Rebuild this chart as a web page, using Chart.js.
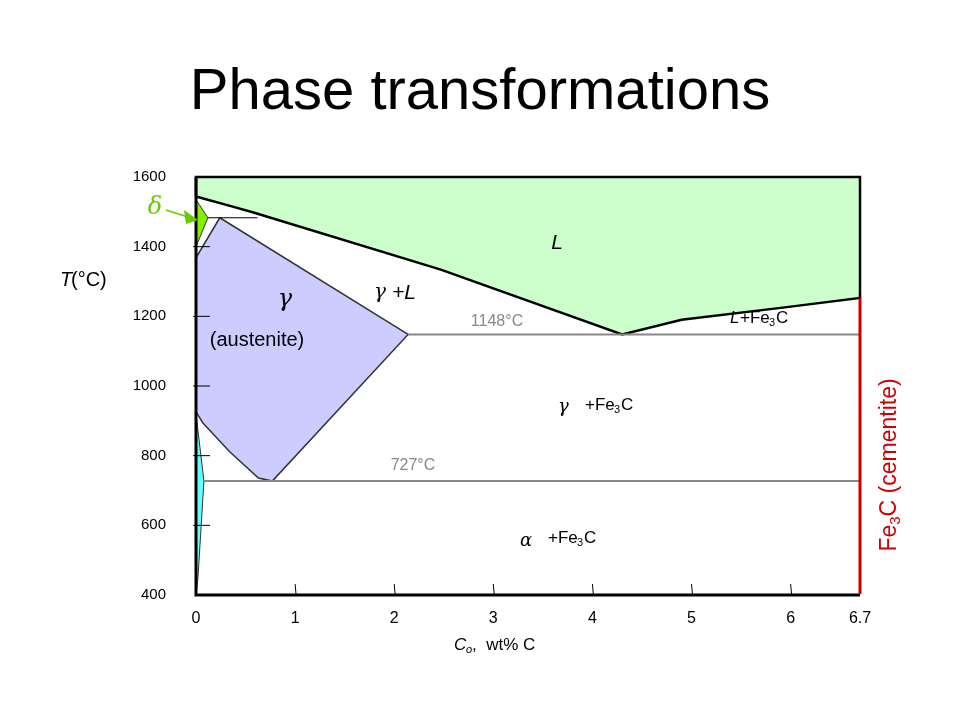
<!DOCTYPE html>
<html>
<head>
<meta charset="utf-8">
<script src="https://cdn.jsdelivr.net/npm/chart.js@4"></script>
<style>
  html, body { margin: 0; padding: 0; background: #fff; }
  #wrap { width: 960px; height: 720px; }
</style>
</head>
<body>
<div id="wrap"><canvas id="chart" width="960" height="720"></canvas></div>
<script>
// composition (wt% C) / temperature (°C) outlines
const xTicks = [0, 1, 2, 3, 4, 5, 6, 6.7];
const yTicks = [400, 600, 800, 1000, 1200, 1400, 1600];

const liquidX = [0, 0.37, 0.58, 2.47, 4.3, 4.9, 5.92, 6.7, 6.7, 0, 0];
const liquidT = [1544, 1515, 1498, 1334, 1148, 1190, 1225, 1253, 1600, 1600, 1544];

const gammaX = [0.24, 2.14, 0.77, 0.63, 0.34, 0.07, 0, 0, 0.24];
const gammaT = [1483, 1148, 727, 736, 811, 894, 926, 1368, 1483];

const deltaX = [0, 0.12, 0, 0];
const deltaT = [1535, 1483, 1400, 1535];

const alphaX = [0, 0.08, 0.02, 0, 0];
const alphaT = [920, 727, 450, 400, 920];

const peritecticX = [0.12, 0.62];
const peritecticT = [1483, 1483];
const eutecticX = [2.14, 6.7];
const eutecticT = [1148, 1148];
const eutectoidX = [0.08, 6.7];
const eutectoidT = [727, 727];
const cementiteX = [6.7, 6.7];
const cementiteT = [1253, 400];

const pts = (xs, ys) => xs.map((x, i) => ({ x, y: ys[i] }));

function shape(xs, ys, fill, border, width) {
  return { data: pts(xs, ys), showLine: true, fill: "shape", backgroundColor: fill,
    borderColor: border, borderWidth: width, pointRadius: 0, tension: 0, clip: false };
}
function line(xs, ys, color, width) {
  return { data: pts(xs, ys), showLine: true, fill: false, borderColor: color,
    borderWidth: width, pointRadius: 0, tension: 0, clip: false };
}

// ---------------- Labels & tick marks ----------------
const labels = {
  id: "labels",
  afterDraw(chart) {
    const c = chart.ctx, xs = chart.scales.x, ys = chart.scales.y;
    const X = v => xs.getPixelForValue(v), Y = v => ys.getPixelForValue(v);
    c.save();
    // thick axes
    c.strokeStyle = "#000"; c.lineWidth = 3;
    c.beginPath(); c.moveTo(X(0), Y(1600)); c.lineTo(X(0), Y(400)); c.lineTo(X(6.7), Y(400)); c.stroke();
    c.strokeStyle = "#cc0000"; c.lineWidth = 3;
    c.beginPath(); c.moveTo(X(6.7), Y(1253)); c.lineTo(X(6.7), Y(400) - 1); c.stroke();
    // tick marks inside the frame
    c.strokeStyle = "#000"; c.lineWidth = 1;
    yTicks.forEach(t => { if (t === 400 || t === 1600) return;
      c.beginPath(); c.moveTo(X(0) - 3, Y(t)); c.lineTo(X(0) + 14, Y(t)); c.stroke(); });
    xTicks.forEach(t => { if (t === 0 || t === 6.7) return;
      c.beginPath(); c.moveTo(X(t), Y(400) - 11); c.lineTo(X(t) + 1, Y(400)); c.stroke(); });

    const txt = (s, x, y, font, color, align) => {
      c.font = font; c.fillStyle = color || "#000"; c.textAlign = align || "center";
      c.textBaseline = "middle"; c.fillText(s, x, y);
    };
    txt("Phase transformations", 480, 93, "58px 'Liberation Sans', Arial", "#000");
    txt("L", 557, 243, "italic 21px 'Liberation Sans', Arial");
    txt("γ", 374, 293, "italic 20px 'DejaVu Serif', serif", "#000", "left");
    txt("+L", 392, 293, "italic 21px 'Liberation Sans', Arial", "#000", "left");
    txt("γ", 285, 300, "italic 24px 'DejaVu Serif', serif");
    txt("(austenite)", 257, 340, "20px 'Liberation Sans', Arial");
    txt("1148°C", 497, 322, "16px 'Liberation Sans', Arial", "#888");
    txt("727°C", 413, 466, "16px 'Liberation Sans', Arial", "#888");
    // L+Fe3C
    txt("L", 730, 318, "italic 17px 'Liberation Sans', Arial", "#000", "left");
    txt("+Fe", 740, 318, "17px 'Liberation Sans', Arial", "#000", "left");
    txt("3", 769, 323, "11px 'Liberation Sans', Arial", "#000", "left");
    txt("C", 776, 318, "17px 'Liberation Sans', Arial", "#000", "left");
    // γ + Fe3C
    txt("γ", 558, 407, "italic 18px 'DejaVu Serif', serif", "#000", "left");
    txt("+Fe", 585, 405, "17px 'Liberation Sans', Arial", "#000", "left");
    txt("3", 614, 410, "11px 'Liberation Sans', Arial", "#000", "left");
    txt("C", 621, 405, "17px 'Liberation Sans', Arial", "#000", "left");
    // α + Fe3C
    txt("α", 520, 541, "italic 18px 'DejaVu Serif', serif", "#000", "left");
    txt("+Fe", 548, 538, "17px 'Liberation Sans', Arial", "#000", "left");
    txt("3", 577, 543, "11px 'Liberation Sans', Arial", "#000", "left");
    txt("C", 584, 538, "17px 'Liberation Sans', Arial", "#000", "left");
    // axis titles
    txt("T", 60, 280, "italic 20px 'Liberation Sans', Arial", "#000", "left");
    txt("(°C)", 71, 280, "20px 'Liberation Sans', Arial", "#000", "left");
    txt("C", 454, 645, "italic 17px 'Liberation Sans', Arial", "#000", "left");
    txt("o", 466, 650, "italic 11px 'Liberation Sans', Arial", "#000", "left");
    txt(",  wt% C", 472, 645, "17px 'Liberation Sans', Arial", "#000", "left");
    // delta
    txt("δ", 155, 208, "italic 24px 'DejaVu Serif', serif", "#66cc00");
    c.strokeStyle = "#66cc00"; c.fillStyle = "#66cc00"; c.lineWidth = 1.5;
    c.beginPath(); c.moveTo(166, 210); c.lineTo(188, 217); c.stroke();
    c.beginPath(); c.moveTo(198, 220); c.lineTo(184, 210); c.lineTo(186, 224); c.closePath(); c.fill();
    // cementite, rotated
    c.translate(890, 465); c.rotate(-Math.PI / 2);
    c.fillStyle = "#cc0000"; c.textBaseline = "middle"; c.textAlign = "left";
    const parts = [["Fe", "23px"], ["3", "15px"], ["C (cementite)", "23px"]];
    let w = 0;
    parts.forEach(p => { c.font = p[1] + " 'Liberation Sans', Arial"; w += c.measureText(p[0]).width; });
    let x0 = -w / 2;
    parts.forEach(p => {
      c.font = p[1] + " 'Liberation Sans', Arial";
      c.fillText(p[0], x0, p[1] === "15px" ? 6 : 0);
      x0 += c.measureText(p[0]).width;
    });
    c.restore();
  }
};

new Chart(document.getElementById("chart"), {
  type: "scatter",
  data: {
    datasets: [
      line(peritecticX, peritecticT, "#000", 1),
      line(eutecticX, eutecticT, "#888", 2),
      line(eutectoidX, eutectoidT, "#888", 2),
      shape(deltaX, deltaT, "#88ee00", "#333", 1),
      shape(alphaX, alphaT, "#66ffff", "#333", 1),
      shape(gammaX, gammaT, "#ccccff", "#333", 1.5),
      shape(liquidX, liquidT, "#ccffcc", "#000", 2.5)
    ]
  },
  options: {
    responsive: false,
    animation: false,
    layout: { padding: { top: 177, right: 100, left: 0, bottom: 0 } },
    plugins: { legend: { display: false }, tooltip: { enabled: false } },
    scales: {
      x: {
        type: "linear", min: 0, max: 6.7,
        afterBuildTicks: s => { s.ticks = xTicks.map(v => ({ value: v })); },
        afterFit: s => { s.height = 125; },
        grid: { display: false },
        border: { display: false },
        ticks: { color: "#000", font: { size: 16, family: "'Liberation Sans', Arial" }, padding: 6,
          callback: v => String(v) }
      },
      y: {
        type: "linear", min: 400, max: 1600,
        afterBuildTicks: s => { s.ticks = yTicks.map(v => ({ value: v })); },
        afterFit: s => { s.width = 196; },
        grid: { display: false },
        border: { display: false },
        ticks: { color: "#000", font: { size: 15, family: "'Liberation Sans', Arial" }, padding: 22,
          callback: v => String(v) }
      }
    }
  },
  plugins: [labels]
});
</script>
</body>
</html>
